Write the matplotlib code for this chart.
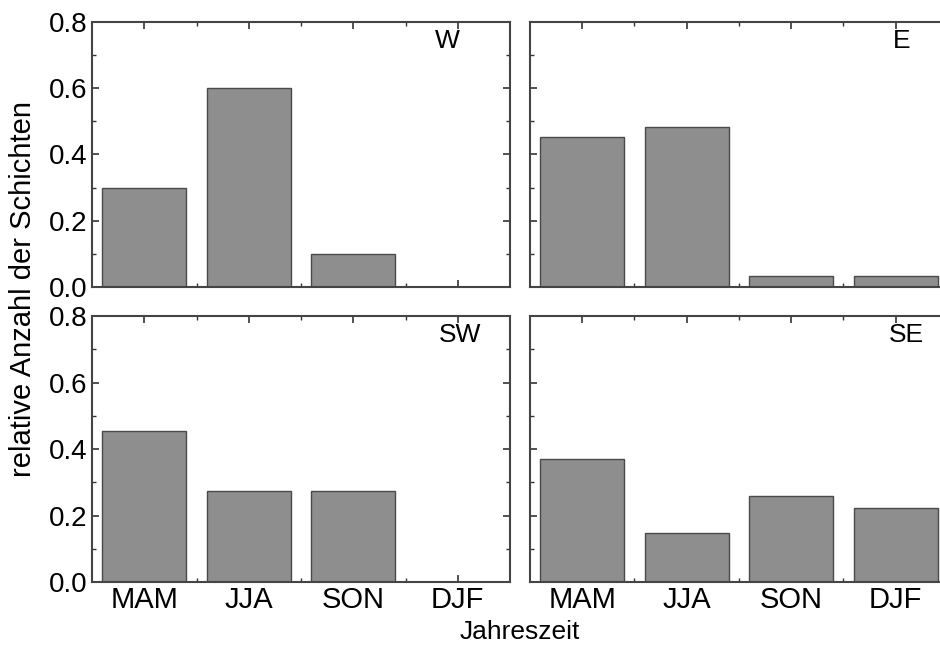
import matplotlib
matplotlib.use("Agg")
import matplotlib.pyplot as plt
from matplotlib.ticker import MultipleLocator, FixedLocator, FormatStrFormatter, NullFormatter

plt.rcParams['font.family'] = ['Liberation Sans', 'DejaVu Sans']

# Jahreszeiten und relative Anzahl der Schichten je Windrichtung
jahreszeiten = ['MAM', 'JJA', 'SON', 'DJF']
anteil_w = [3/10, 6/10, 1/10, 0.0]
anteil_e = [14/31, 15/31, 1/31, 1/31]
anteil_sw = [5/11, 3/11, 3/11, 0.0]
anteil_se = [10/27, 4/27, 7/27, 6/27]

panels = [
    ('W', anteil_w, [0.0979, 0.5585, 0.4447, 0.4077], 0.85),
    ('E', anteil_e, [0.5638, 0.5585, 0.4447, 0.4077], 0.89),
    ('SW', anteil_sw, [0.0979, 0.1046, 0.4447, 0.4092], 0.88),
    ('SE', anteil_se, [0.5638, 0.1046, 0.4447, 0.4092], 0.90),
]

fig = plt.figure(figsize=(9.4, 6.5), dpi=100)
pos = list(range(1, len(jahreszeiten) + 1))

for i, (name, werte, rect, tx) in enumerate(panels):
    ax = fig.add_axes(rect)
    ax.bar(pos, werte, width=0.8, color='#8e8e8e', edgecolor='#4a4a4a', linewidth=1.0, zorder=2)
    ax.set_xlim(0.5, 4.5)
    ax.set_ylim(0, 0.8)
    ax.xaxis.set_major_locator(FixedLocator(pos))
    ax.xaxis.set_minor_locator(FixedLocator([1.5, 2.5, 3.5]))
    ax.yaxis.set_major_locator(MultipleLocator(0.2))
    ax.yaxis.set_minor_locator(MultipleLocator(0.1))
    ax.tick_params(which='both', direction='in', top=True, right=True,
                   color='#333333', labelsize=20, pad=3)
    ax.tick_params(axis='x', labelsize=21)
    ax.tick_params(which='major', length=5, width=1.2)
    ax.tick_params(which='minor', length=3, width=1.0)
    for sp in ax.spines.values():
        sp.set_color('#444444')
        sp.set_linewidth(1.5)
    if i >= 2:
        ax.set_xticklabels(jahreszeiten)
    else:
        ax.xaxis.set_major_formatter(NullFormatter())
    if i % 2 == 0:
        ax.yaxis.set_major_formatter(FormatStrFormatter('%.1f'))
    else:
        ax.yaxis.set_major_formatter(NullFormatter())
    ax.text(tx, 0.93, name, transform=ax.transAxes, ha='center', va='center', fontsize=19)

fig.text(0.024, 0.555, 'relative Anzahl der Schichten', rotation=90,
         ha='center', va='center', fontsize=21)
fig.text(0.553, 0.027, 'Jahreszeit', ha='center', va='center', fontsize=19)

fig.savefig('out.png', dpi=100)
